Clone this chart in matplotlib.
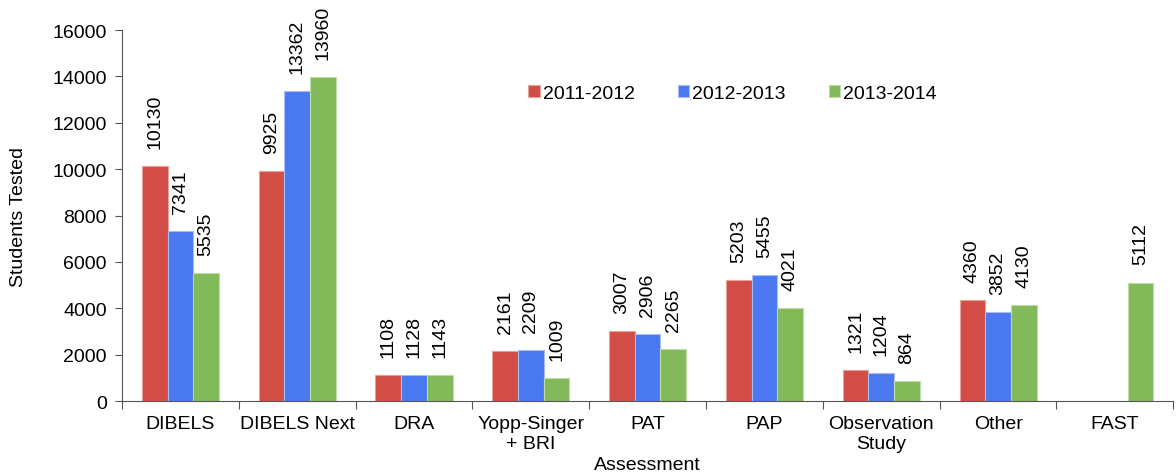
import numpy as np
import matplotlib
matplotlib.use("Agg")
from matplotlib import pyplot as plt

# ------------------------------------------------------------
# Data
# ------------------------------------------------------------
categories = ["DIBELS", "DIBELS Next", "DRA", "Yopp-Singer\n+ BRI", "PAT",
              "PAP", "Observation\nStudy", "Other", "FAST"]
series_names = ["2011-2012", "2012-2013", "2013-2014"]
y2011 = [10130, 9925, 1108, 2161, 3007, 5203, 1321, 4360, np.nan]
y2012 = [7341, 13362, 1128, 2209, 2906, 5455, 1204, 3852, np.nan]
y2013 = [5535, 13960, 1143, 1009, 2265, 4021, 864, 4130, 5112]

colors = ["#D24D45", "#4A78F0", "#82BA5A"]
edges = ["#E8A09A", "#A9BDF5", "#BEDDA6"]

plt.rcParams["font.family"] = ["Liberation Sans", "DejaVu Sans"]
plt.rcParams["font.size"] = 14

fig = plt.figure(figsize=(11.76, 4.77), dpi=100)
ax = fig.add_axes([0.1037, 0.157, 0.894, 0.778])

x = np.arange(len(categories))
w = 0.22
for i, (name, vals) in enumerate(zip(series_names, [y2011, y2012, y2013])):
    pos = x + (i - 1) * w
    ax.bar(pos, vals, width=w, color=colors[i], edgecolor=edges[i],
           linewidth=0.8, label=name)
    for p, v in zip(pos, vals):
        if np.isnan(v):
            continue
        ax.annotate(f"{int(v)}", (p, v), xytext=(0, 13),
                    textcoords="offset points", rotation=90,
                    ha="center", va="bottom", fontsize=14)

ax.set_xlim(-0.5, len(categories) - 0.5)
ax.set_ylim(0, 16000)
ax.set_yticks(range(0, 16001, 2000))
ax.set_xticks(np.arange(-0.5, len(categories), 1.0))
ax.set_xticklabels([])
ax.set_xticks(x, minor=True)
ax.set_xticklabels(categories, minor=True)
ax.tick_params(axis="x", which="minor", length=0, pad=10)
ax.tick_params(axis="x", which="major", length=6, direction="out",
               color="#555555")
ax.tick_params(axis="y", length=5, direction="out", color="#555555", pad=6)

for s in ["top", "right"]:
    ax.spines[s].set_visible(False)
ax.spines["left"].set_color("#555555")
ax.spines["bottom"].set_color("#555555")

ax.set_xlabel("Assessment", labelpad=3)
ax.set_ylabel("Students Tested", labelpad=18)

ax.legend(loc="upper left", bbox_to_anchor=(0.37, 0.90), ncol=3,
          frameon=False, handlelength=0.6, handleheight=0.6,
          handletextpad=0.15, columnspacing=2.2, fontsize=14)

fig.savefig("out.png", dpi=100)
